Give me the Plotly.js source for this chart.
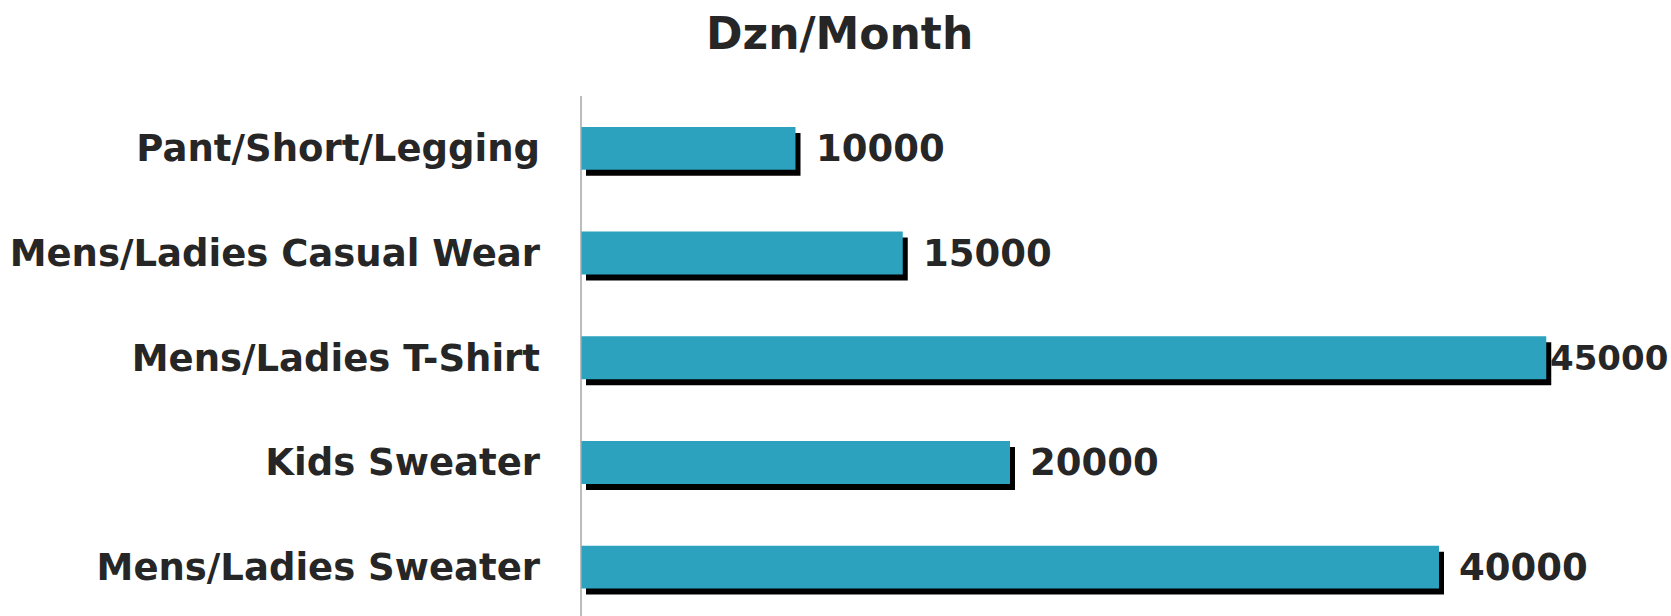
<!DOCTYPE html>
<html><head><meta charset="utf-8">
<script src="https://cdn.plot.ly/plotly-3.0.1.min.js"></script>
<style>html,body{margin:0;padding:0;background:#fff}#chart{width:1671px;height:616px}</style>
</head><body><div id="chart"></div>
<script>
const categories = ["Pant/Short/Legging","Mens/Ladies Casual Wear","Mens/Ladies T-Shirt","Kids Sweater","Mens/Ladies Sweater"];
const values = [10000, 15000, 45000, 20000, 40000];
const titleText = "Dzn/Month";

const W = 1671, H = 616, L = 581, T = 96;
const plotW = W - L, plotH = H - T;
const dx = 5, dy = 6;
const pxPerUnit = 0.02145;
const xMax = (plotW - dx) / pxPerUnit;
const catPx = 104.7;
const yBottom = -0.5 + (plotH - dy) / catPx;
const FONT = "DejaVu Sans, sans-serif";
const TXT = "#262626";
const TEAL = "#2ca2bf";

const shadow = {type:"bar", orientation:"h", x: values, y: categories, xaxis:"x", yaxis:"y",
  marker:{color:"#000", line:{width:0}}, width:0.41, hoverinfo:"skip", showlegend:false};
const bars = {type:"bar", orientation:"h", x: values, y: categories, xaxis:"x2", yaxis:"y2",
  marker:{color:TEAL, line:{width:0}}, width:0.41, showlegend:false};

const labelW = 128;
const annotations = values.map((v, i) => {
  const right = L + v * pxPerUnit + 18 + labelW;
  if (right > W - 3) {
    return {xref:"paper", yref:"y2", x:1, y:categories[i], xanchor:"right", xshift:-1,
      text:String(v), showarrow:false, font:{family:FONT, size:34, color:TXT, weight:"bold"}};
  }
  return {xref:"x2", yref:"y2", x:v, y:categories[i], xanchor:"left", xshift:18,
    text:String(v), showarrow:false, font:{family:FONT, size:37, color:TXT, weight:"bold"}};
});
annotations.push({xref:"paper", yref:"paper", x:(839 - L)/plotW, y:1, yshift:63, xanchor:"center", yanchor:"middle",
  text:titleText, showarrow:false, font:{family:FONT, size:44, color:TXT, weight:"bold"}});

const hiddenAx = {showgrid:false, zeroline:false, showline:false, showticklabels:false, ticks:""};
const layout = {
  width:W, height:H, margin:{l:L, r:0, t:T, b:0, pad:0},
  paper_bgcolor:"#fff", plot_bgcolor:"rgba(0,0,0,0)", barmode:"overlay", showlegend:false,
  xaxis: Object.assign({}, hiddenAx, {domain:[dx/plotW, 1], range:[0, xMax], anchor:"y"}),
  yaxis: Object.assign({}, hiddenAx, {domain:[0, 1 - dy/plotH], type:"category", categoryorder:"array",
    categoryarray:categories, range:[yBottom, -0.5], anchor:"x"}),
  xaxis2: Object.assign({}, hiddenAx, {domain:[0, 1 - dx/plotW], range:[0, xMax], anchor:"y2"}),
  yaxis2: {domain:[dy/plotH, 1], type:"category", categoryorder:"array", categoryarray:categories,
    range:[yBottom, -0.5], anchor:"x2", showgrid:false, zeroline:false, showline:false, ticks:"",
    ticklabelstandoff:40, tickfont:{family:FONT, size:37, color:TXT, weight:"bold"}},
  shapes:[{type:"line", xref:"paper", yref:"paper", x0:0, x1:0, y0:0, y1:1, line:{color:"#a6a6a6", width:1.5}}],
  annotations: annotations
};
Plotly.newPlot("chart", [shadow, bars], layout, {displayModeBar:false, staticPlot:true});
</script></body></html>
